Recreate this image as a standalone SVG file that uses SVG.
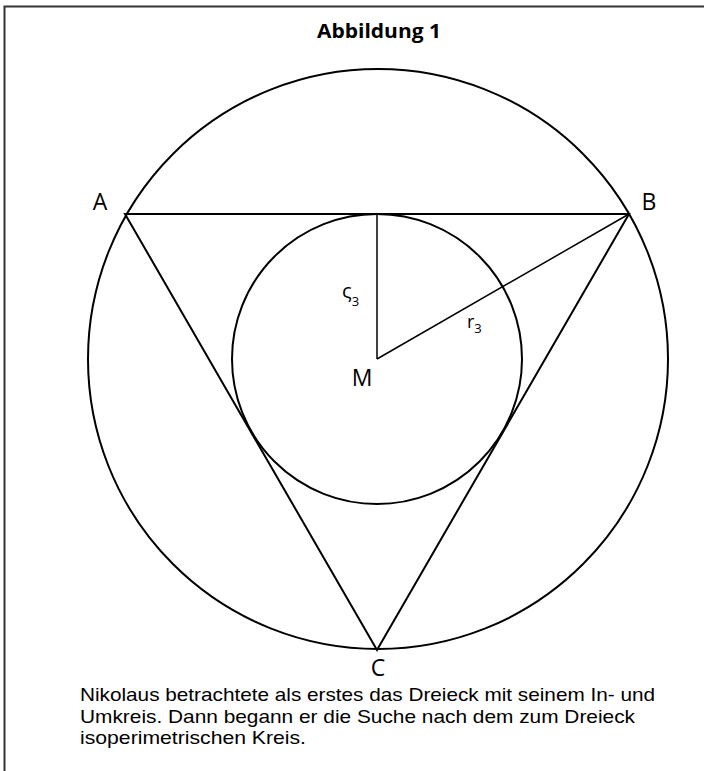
<svg xmlns="http://www.w3.org/2000/svg" width="704" height="771" viewBox="0 0 704 771">
<style>
.t{font-family:"Open Sans","Noto Sans","Liberation Sans",sans-serif;fill:#000}
.c{font-family:"Liberation Sans",Arial,sans-serif;fill:#000;font-size:18.5px}
.lbl{font-size:23px}
.sub{font-size:13px}
.ttl{font-size:20px;font-weight:bold}
.sh{fill:none;stroke:#000;stroke-width:2}
.thin{fill:none;stroke:#000;stroke-width:1.5}
</style>
<rect width="704" height="771" fill="#fff"/>
<g id="frame"><path d="M4.5 771 V6.5 H704" fill="none" stroke="#333" stroke-width="2"/></g>
<text id="title" class="t ttl" x="379" y="38" text-anchor="middle" textLength="124" lengthAdjust="spacingAndGlyphs">Abbildung 1</text>
<g id="umkreis"><circle class="sh" cx="378" cy="359" r="290"/></g>
<g id="inkreis"><circle class="sh" cx="377" cy="359" r="145"/></g>
<g id="dreieck"><polygon class="sh" points="125,214 629,214 377,650"/></g>
<g id="connectors">
<line class="thin" x1="377" y1="214" x2="377" y2="359"/>
<line class="thin" x1="377" y1="359" x2="629" y2="214"/>
</g>
<g id="A"><text class="t lbl" x="100" y="210" text-anchor="middle">A</text></g>
<g id="B"><text class="t lbl" x="649" y="210" text-anchor="middle">B</text></g>
<g id="C"><text class="t lbl" x="378" y="676" text-anchor="middle">C</text></g>
<g id="M"><text class="t lbl" x="362" y="386" text-anchor="middle">M</text></g>
<g id="rho"><text class="t" x="342" y="298" font-size="20">ς<tspan class="sub" dy="8">3</tspan></text></g>
<g id="r3"><text class="t" x="467" y="328" font-size="18">r<tspan class="sub" dy="5">3</tspan></text></g>
<g id="caption">
<text class="c" x="80" y="701" textLength="575" lengthAdjust="spacingAndGlyphs">Nikolaus betrachtete als erstes das Dreieck mit seinem In- und</text>
<text class="c" x="80" y="722.5" textLength="555" lengthAdjust="spacingAndGlyphs">Umkreis. Dann begann er die Suche nach dem zum Dreieck</text>
<text class="c" x="80" y="744" textLength="226" lengthAdjust="spacingAndGlyphs">isoperimetrischen Kreis.</text>
</g>
</svg>
